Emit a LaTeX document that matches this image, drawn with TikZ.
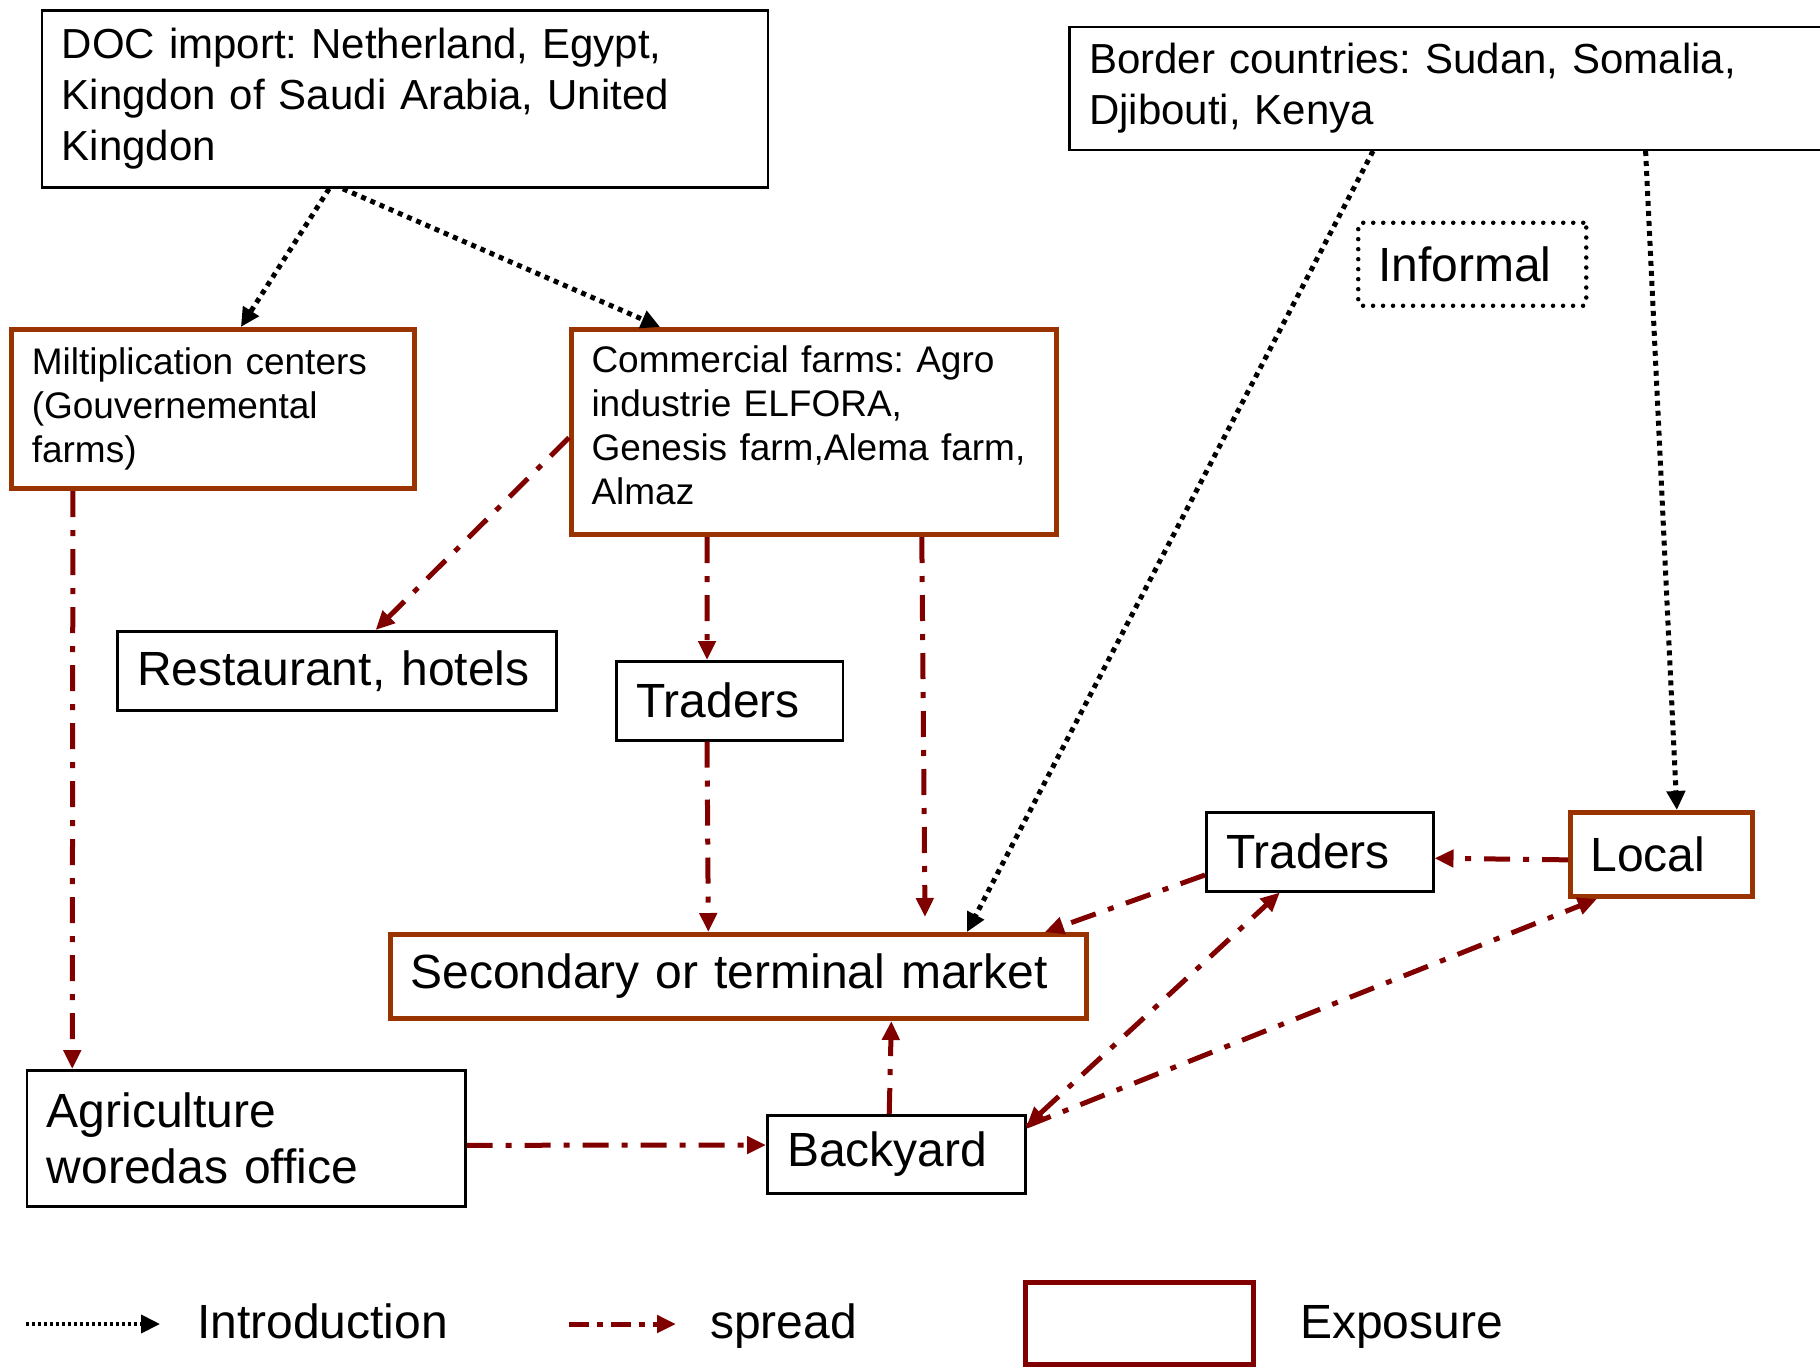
\documentclass[tikz,border=0pt]{standalone}
\usepackage{fontspec}
\setmainfont{Liberation Sans}
\usetikzlibrary{arrows.meta,calc}
\definecolor{expcol}{HTML}{993300}
\definecolor{sprcol}{HTML}{800000}
\frenchspacing
\begin{document}
\begin{tikzpicture}[x=1pt,y=-1pt,
  basebox/.style={draw=black, line width=2.5pt, fill=white, anchor=north west, inner xsep=20pt, inner ysep=0pt, align=left},
  expbox/.style={basebox, draw=expcol, line width=5pt},
  fbig/.style={font=\fontsize{48pt}{56pt}\selectfont},
  fmed/.style={font=\fontsize{42pt}{51pt}\selectfont},
  fsml/.style={font=\fontsize{37pt}{44pt}\selectfont},
  intro/.style={draw=black, line width=5pt, dash pattern=on 5pt off 5pt, -{Triangle[length=19pt,width=18pt]}},
  spread/.style={draw=sprcol, line width=5pt, dash pattern=on 26pt off 13pt on 6pt off 13pt, -{Triangle[length=19pt,width=17pt]}},
  legtext/.style={fbig, anchor=base west, inner sep=0pt},
]
\useasboundingbox (0,0) rectangle (1820,1366);

% boxes
\node[basebox,fmed,minimum height=177pt,text width=686pt] (doc) at (40.6,9.3)
  {DOC import: Netherland, Egypt,\\Kingdon of Saudi Arabia, United\\Kingdon};
\node[basebox,fmed,minimum height=123pt,text width=860pt] (border) at (1068,25.5)
  {Border countries: Sudan, Somalia,\\Djibouti, Kenya};
\node[draw=black, line width=4.5pt, dash pattern=on 0pt off 10pt, line cap=round, rounded corners=3pt,
  anchor=north west, inner xsep=20pt, inner ysep=0pt, minimum height=83pt, text width=188pt, align=left, fbig]
  (inf) at (1356,220.5) {Informal};
\node[expbox,fsml,minimum height=159pt,text width=362.7pt] (milt) at (9.3,327)
  {Miltiplication centers\\(Gouvernemental\\farms)};
\node[expbox,fsml,minimum height=205pt,text width=445pt] (comm) at (569,327)
  {Commercial farms: Agro\\industrie ELFORA,\\Genesis farm,Alema farm,\\Almaz\strut};
\node[basebox,fbig,minimum height=79pt,text width=399pt] (rest) at (116,630) {Restaurant, hotels};
\node[basebox,fbig,minimum height=79pt,text width=186.5pt] (trad1) at (615,660) {Traders};
\node[basebox,fbig,minimum height=79pt,text width=187pt] (trad2) at (1205,811) {Traders};
\node[expbox,fbig,minimum height=84pt,text width=142pt] (local) at (1568,810) {Local};
\node[expbox,fbig,minimum height=84pt,text width=656pt] (sec) at (388,932) {Secondary or terminal market};
\node[basebox,fbig,minimum height=136pt,text width=398.5pt] (agri) at (25.5,1069) {Agriculture\\woredas office};
\node[basebox,fbig,minimum height=78pt,text width=218pt] (back) at (766,1114) {Backyard};

% introduction connectors
\draw[intro] ($(doc.south west)!0.396!(doc.south east)$) -- ($(milt.north west)!0.568!(milt.north east)$);
\draw[intro] ($(doc.south west)!0.415!(doc.south east)$) -- ($(comm.north west)!0.186!(comm.north east)$);
\draw[intro] ($(border.south west)!0.338!(border.south east)$) -- ($(sec.north west)!0.826!(sec.north east)$);
\draw[intro] ($(border.south west)!0.64!(border.south east)$) -- ($(local.north west)!0.582!(local.north east)$);

% spread connectors
\draw[spread] ($(comm.north west)!0.527!(comm.south west)$) -- ($(rest.north west)!0.588!(rest.north east)$);
\draw[spread] ($(milt.south west)!0.156!(milt.south east)$) -- ($(agri.north west)!0.106!(agri.north east)$);
\draw[spread] ($(comm.south west)!0.282!(comm.south east)$) -- ($(trad1.north west)!0.402!(trad1.north east)$);
\draw[spread] ($(trad1.south west)!0.402!(trad1.south east)$) -- ($(sec.north west)!0.457!(sec.north east)$);
\coordinate (secabove) at (925,917);
\draw[spread] ($(comm.south west)!0.72!(comm.south east)$) -- (secabove);
\draw[spread] ($(local.north west)!0.56!(local.south west)$) -- ($(trad2.north east)!0.58!(trad2.south east)$);
\draw[spread] ($(trad2.north west)!0.785!(trad2.south west)$) -- ($(sec.north west)!0.937!(sec.north east)$);
\draw[spread, {Triangle[length=19pt,width=17pt]}-{Triangle[length=19pt,width=17pt]}]
  ($(back.north east)!0.15!(back.south east)$) -- ($(trad2.south west)!0.326!(trad2.south east)$);
\draw[spread] ($(back.north east)!0.15!(back.south east)$) -- ($(local.south west)!0.154!(local.south east)$);
\draw[spread] ($(back.north west)!0.473!(back.north east)$) -- ($(sec.south west)!0.718!(sec.south east)$);
\draw[spread] ($(agri.north east)!0.551!(agri.south east)$) -- ($(back.north west)!0.385!(back.south west)$);

% legend
\coordinate (ia) at (26,1324);
\coordinate (ib) at (160,1324);
\draw[intro, line width=4pt, dash pattern=on 3pt off 3pt] (ia) -- (ib);
\node[legtext] (lintro) at (197,1338) {Introduction};
\coordinate (sa) at (569,1324);
\coordinate (sb) at (676,1324);
\draw[spread, dash pattern=on 20pt off 8pt on 6pt off 8pt] (sa) -- (sb);
\node[legtext] (lspread) at (710,1338) {spread};
\node[draw=sprcol, line width=5pt, anchor=north west, minimum width=228pt, minimum height=82pt, inner sep=0pt] (lexp) at (1023,1280) {};
\node[legtext] (lexpt) at (1300,1338) {Exposure};
\end{tikzpicture}
\end{document}
